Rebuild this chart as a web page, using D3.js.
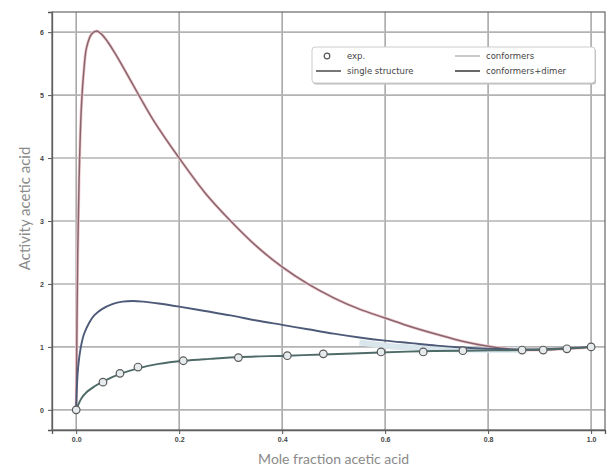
<!DOCTYPE html>
<html>
<head>
<meta charset="utf-8">
<script src="https://cdn.jsdelivr.net/npm/d3@7"></script>
<style>
  body { margin: 0; background: #fff; }
  svg { display: block; font-family: "DejaVu Sans", sans-serif; }
</style>
</head>
<body>
<svg id="chart" width="614" height="473"></svg>
<script>
// values
var xTicks = [0, 0.2, 0.4, 0.6, 0.8, 1.0];
var yTicks = [0, 1, 2, 3, 4, 5, 6];

var singleX = [0, 0.003, 0.006, 0.01, 0.015, 0.02, 0.03, 0.04, 0.05, 0.06, 0.075, 0.09, 0.105, 0.125, 0.15, 0.2, 0.25, 0.3, 0.35, 0.4, 0.45, 0.5, 0.55, 0.6, 0.65, 0.7, 0.75, 0.8, 0.85, 0.9, 0.95, 1.0];
var singleY = [0, 2.5, 3.8, 4.8, 5.4, 5.75, 5.97, 6.02, 5.96, 5.86, 5.67, 5.46, 5.24, 4.95, 4.6, 4.0, 3.45, 3.0, 2.6, 2.27, 2.0, 1.78, 1.6, 1.46, 1.32, 1.2, 1.09, 1.01, 0.96, 0.95, 0.97, 1.0];

var confX = [0, 0.003, 0.008, 0.015, 0.025, 0.035, 0.05, 0.07, 0.09, 0.11, 0.13, 0.16, 0.2, 0.25, 0.3, 0.35, 0.4, 0.45, 0.5, 0.55, 0.6, 0.65, 0.7, 0.75, 0.8, 0.85, 0.9, 0.95, 1.0];
var confY = [0, 0.6, 0.95, 1.2, 1.38, 1.5, 1.6, 1.68, 1.72, 1.73, 1.72, 1.69, 1.64, 1.57, 1.5, 1.42, 1.35, 1.28, 1.21, 1.15, 1.1, 1.06, 1.02, 0.99, 0.97, 0.96, 0.96, 0.98, 1.0];

// pale band seen between the two lower curves on the right
var bandX = [0.55, 0.6, 0.65, 0.7, 0.75, 0.8, 0.87];
var bandY = [1.07, 1.02, 0.99, 0.97, 0.96, 0.955, 0.955];

var dimerX = [0, 0.01, 0.02, 0.035, 0.05, 0.085, 0.12, 0.16, 0.21, 0.26, 0.32, 0.41, 0.48, 0.59, 0.67, 0.75, 0.87, 0.95, 1.0];
var dimerY = [0, 0.18, 0.28, 0.37, 0.44, 0.57, 0.66, 0.73, 0.78, 0.81, 0.84, 0.86, 0.88, 0.91, 0.93, 0.94, 0.95, 0.97, 1.0];

var expX = [0, 0.052, 0.085, 0.12, 0.208, 0.315, 0.41, 0.48, 0.592, 0.674, 0.751, 0.866, 0.907, 0.953, 1.0];
var expY = [0, 0.44, 0.58, 0.68, 0.78, 0.83, 0.86, 0.89, 0.92, 0.92, 0.94, 0.95, 0.95, 0.97, 1.0];

var legendLabels = ["exp.", "single structure", "conformers", "conformers+dimer"];

var svg = d3.select("#chart");
var margin = {top: 12, right: 9, bottom: 43, left: 52};
var width = 614 - margin.left - margin.right;
var height = 473 - margin.top - margin.bottom;

var x = d3.scaleLinear().domain([-0.047, 1.027]).range([0, width]);
var y = d3.scaleLinear().domain([-0.32, 6.32]).range([height, 0]);

var g = svg.append("g")
  .attr("transform", "translate(" + margin.left + "," + margin.top + ")");

// grid
g.append("g").selectAll("line").data(xTicks).enter().append("line")
  .attr("x1", function (d) { return x(d); })
  .attr("x2", function (d) { return x(d); })
  .attr("y1", 0).attr("y2", height)
  .attr("stroke", "#a9a9a9").attr("stroke-width", 1.6);
g.append("g").selectAll("line").data(yTicks).enter().append("line")
  .attr("y1", function (d) { return y(d); })
  .attr("y2", function (d) { return y(d); })
  .attr("x1", 0).attr("x2", width)
  .attr("stroke", "#b3b3b3").attr("stroke-width", 1.6);

// axes
var xAxis = g.append("g")
  .attr("transform", "translate(0," + height + ")")
  .call(d3.axisBottom(x).tickValues(xTicks).tickFormat(d3.format(".1f")).tickSize(4));
var yAxis = g.append("g")
  .call(d3.axisLeft(y).tickValues(yTicks).tickFormat(d3.format("d")).tickSize(4));
[xAxis, yAxis].forEach(function (a) {
  a.select(".domain").attr("stroke", "#555").attr("stroke-width", 1.3);
  a.selectAll(".tick line").attr("stroke", "#555");
  a.selectAll(".tick text").attr("fill", "#444").style("font-size", "7px").style("font-weight", "bold");
});
yAxis.selectAll(".tick text").attr("x", -8);

// frame top/right
g.append("rect")
  .attr("width", width).attr("height", height)
  .attr("fill", "none").attr("stroke", "#666").attr("stroke-width", 1.2);

function pts(xs, ys) {
  return xs.map(function (v, i) { return [v, ys[i]]; });
}
var line = d3.line()
  .x(function (d) { return x(d[0]); })
  .y(function (d) { return y(d[1]); })
  .curve(d3.curveCatmullRom.alpha(0.5));

g.append("path").datum(pts(bandX, bandY))
  .attr("fill", "none").attr("stroke", "#d9e6eb").attr("stroke-width", 6)
  .attr("d", line);

g.append("path").datum(pts(singleX, singleY))
  .attr("fill", "none").attr("stroke", "#f3c9ce").attr("stroke-width", 3)
  .attr("d", line);
g.append("path").datum(pts(singleX, singleY))
  .attr("fill", "none").attr("stroke", "#86666e").attr("stroke-width", 1.5)
  .attr("d", line);

g.append("path").datum(pts(confX, confY))
  .attr("fill", "none").attr("stroke", "#4d5a78").attr("stroke-width", 1.9)
  .attr("d", line);

g.append("path").datum(pts(dimerX, dimerY))
  .attr("fill", "none").attr("stroke", "#4f6b68").attr("stroke-width", 1.9)
  .attr("d", line);

g.append("g").selectAll("circle").data(pts(expX, expY)).enter().append("circle")
  .attr("cx", function (d) { return x(d[0]); })
  .attr("cy", function (d) { return y(d[1]); })
  .attr("r", 3.8)
  .attr("fill", "#e6ecee").attr("stroke", "#5a5a5a").attr("stroke-width", 1.2);

// legend
var lg = svg.append("g").attr("transform", "translate(312,47)");
lg.append("rect").attr("x", 1).attr("y", 1.5).attr("width", 283).attr("height", 36)
  .attr("rx", 3).attr("fill", "#bbb");
lg.append("rect").attr("width", 283).attr("height", 36)
  .attr("rx", 3).attr("fill", "#fff").attr("stroke", "#ccc");
var slots = [
  {x: 4, y: 9, kind: "circle"},
  {x: 4, y: 24, kind: "line", color: "#555"},
  {x: 143, y: 9, kind: "line", color: "#bdbdbd"},
  {x: 143, y: 24, kind: "line", color: "#444"}
];
slots.forEach(function (s, i) {
  if (s.kind === "circle") {
    lg.append("circle").attr("cx", s.x + 11).attr("cy", s.y).attr("r", 2.8)
      .attr("fill", "#fff").attr("stroke", "#555").attr("stroke-width", 1.2);
  } else {
    lg.append("line").attr("x1", s.x).attr("x2", s.x + 25).attr("y1", s.y).attr("y2", s.y)
      .attr("stroke", s.color).attr("stroke-width", 1.6);
  }
  lg.append("text").attr("x", s.x + 31).attr("y", s.y + 3)
    .attr("fill", "#444").style("font-size", "8.5px")
    .text(legendLabels[i]);
});

// axis titles
svg.append("text")
  .attr("x", margin.left + x(0.5)).attr("y", 464)
  .attr("text-anchor", "middle").attr("fill", "#8a8a8a")
  .style("font-size", "14px").style("font-family", "Lato, sans-serif")
  .text("Mole fraction acetic acid");
svg.append("text")
  .attr("transform", "translate(30," + (margin.top + y(3.2)) + ") rotate(-90)")
  .attr("text-anchor", "middle").attr("fill", "#8a8a8a")
  .style("font-size", "15px").style("font-family", "Lato, sans-serif")
  .text("Activity acetic acid");
</script>
</body>
</html>
